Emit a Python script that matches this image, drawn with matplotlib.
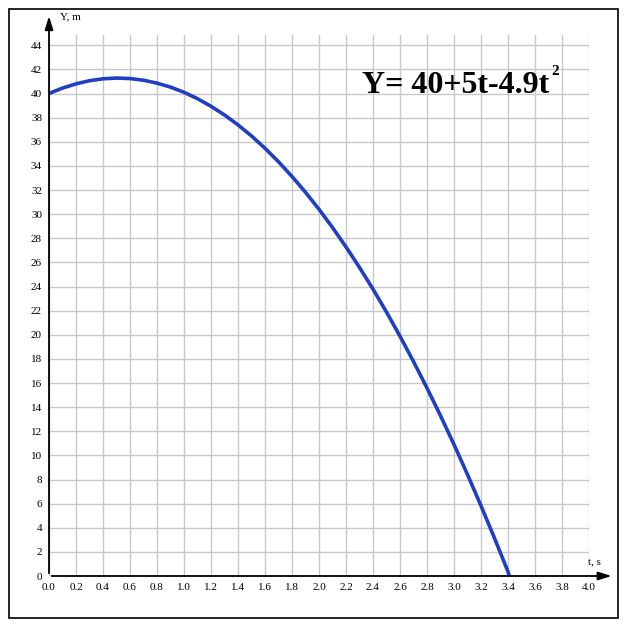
import matplotlib.pyplot as plt
from matplotlib.patches import Rectangle

# values
t = [0.0, 0.1, 0.2, 0.3, 0.4, 0.5, 0.6, 0.7, 0.8, 0.9, 1.0, 1.1, 1.2,
     1.3, 1.4, 1.5, 1.6, 1.7, 1.8, 1.9, 2.0, 2.1, 2.2, 2.3, 2.4, 2.5,
     2.6, 2.7, 2.8, 2.9, 3.0, 3.1, 3.2, 3.3, 3.4, 3.41]
y = [40.0, 40.45, 40.8, 41.06, 41.22, 41.28, 41.24, 41.1, 40.86, 40.53,
     40.1, 39.57, 38.94, 38.22, 37.4, 36.48, 35.46, 34.34, 33.12, 31.81,
     30.4, 28.89, 27.28, 25.58, 23.78, 21.88, 19.88, 17.78, 15.58, 13.29,
     10.9, 8.41, 5.82, 3.14, 0.36, 0.0]
xticks = [i / 5 for i in range(21)]
yticks = list(range(0, 46, 2))

plt.rcParams['font.family'] = ['Liberation Serif', 'DejaVu Serif']

fig = plt.figure(figsize=(6.27, 6.30), dpi=100)
ax = fig.add_axes([49 / 627, 54 / 630, 540 / 627, 541 / 630])

ax.plot(t, y, color='#1f3ec4', lw=2.6, solid_capstyle='butt', zorder=3)

ax.set_xlim(0, 4.0)
ax.set_ylim(0, 44.85)
ax.set_xticks(xticks)
ax.set_xticklabels(['%.1f' % v for v in xticks])
ax.set_yticks(yticks)
ax.tick_params(length=0, labelsize=8, pad=5)
ax.grid(color='#c8c8c8', lw=1)
ax.set_axisbelow(True)
for s in ax.spines.values():
    s.set_visible(False)

arrow = dict(arrowstyle='-|>,head_length=0.8,head_width=0.25', color='black', lw=1.3)
ax.annotate('', xy=(1.047, 0), xytext=(0, 0), xycoords='axes fraction', arrowprops=arrow)
ax.annotate('', xy=(0, 1.04), xytext=(0, 0), xycoords='axes fraction', arrowprops=arrow)

fig.text(60 / 627, 1 - 17 / 630, 'Y, m', fontsize=8, va='center')
fig.text(588 / 627, 1 - 562 / 630, 't, s', fontsize=8, va='center')
fig.text(362 / 627, 1 - 93 / 630, 'Y= 40+5t-4.9t', fontsize=23,
         fontweight='bold', va='baseline')
fig.text(551 / 627, 1 - 75 / 630, '2', fontsize=11, fontweight='bold', va='baseline')

fig.patches.append(Rectangle((9 / 627, 12 / 630), 609 / 627, 609 / 630,
                             transform=fig.transFigure, fill=False, lw=1.2, color='black'))

plt.savefig('out.png', dpi=100)
